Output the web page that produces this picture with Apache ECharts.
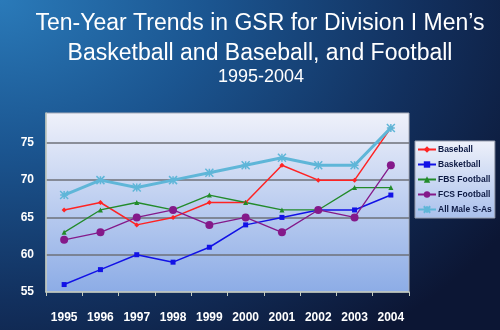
<!DOCTYPE html>
<html>
<head>
<meta charset="utf-8">
<script src="https://cdn.jsdelivr.net/npm/echarts@6/dist/echarts.min.js"></script>
<style>
html,body{margin:0;padding:0;}
body{width:500px;height:330px;overflow:hidden;
background:radial-gradient(ellipse 120% 130% at 0% 0%, #2a7ab9 0%, #1b5590 35%, #12305e 70%, #0c1634 100%);}
#c{width:500px;height:330px;}
</style>
</head>
<body>
<div id="c"></div>
<script>
var years = ['1995','1996','1997','1998','1999','2000','2001','2002','2003','2004'];
var baseball = [66, 67, 64, 65, 67, 67, 72, 70, 70, 77];
var basketball = [56, 58, 60, 59, 61, 64, 65, 66, 66, 68];
var fbsFootball = [63, 66, 67, 66, 68, 67, 66, 66, 69, 69];
var fcsFootball = [62, 63, 65, 66, 64, 65, 63, 66, 65, 72];
var allMale = [68, 70, 69, 70, 71, 72, 73, 72, 72, 77];
var seriesNames = ['Baseball', 'Basketball', 'FBS Football', 'FCS Football', 'All Male S-As'];

var chart = echarts.init(document.getElementById('c'));
var FONT = 'Liberation Sans, Arial, sans-serif';
function mk(name, data, color, symbol, size, width) {
  return {
    name: name, type: 'line', data: data,
    symbol: symbol, symbolSize: size,
    lineStyle: {color: color, width: width},
    itemStyle: {color: color, borderColor: color, borderWidth: symbol.indexOf('path') === 0 ? 1.5 : 0},
    emphasis: {disabled: true},
    z: 3
  };
}
chart.setOption({
  animation: false,
  backgroundColor: 'transparent',
  title: [{
    text: 'Ten-Year Trends in GSR for Division I Men\u2019s\nBasketball and Baseball, and Football',
    left: 255, top: 4, textAlign: 'center',
    textStyle: {color: '#ffffff', fontFamily: FONT, fontWeight: 'normal', fontSize: 23, lineHeight: 30}
  }, {
    text: '1995-2004',
    left: 256, top: 63, textAlign: 'center',
    textStyle: {color: '#ffffff', fontFamily: FONT, fontWeight: 'normal', fontSize: 18}
  }],
  legend: {
    orient: 'vertical', left: 415, top: 141,
    data: seriesNames,
    itemWidth: 18, itemHeight: 8, itemGap: 4,
    padding: [3, 3, 3, 2],
    borderColor: '#9aa0b0', borderWidth: 1,
    backgroundColor: new echarts.graphic.LinearGradient(0, 0, 0, 1, [
      {offset: 0, color: '#eef1fa'}, {offset: 1, color: '#a9c0ec'}]),
    textStyle: {color: '#0d1a44', fontFamily: FONT, fontSize: 8.5, fontWeight: 'bold', padding: [0, 0, 0, -3], lineHeight: 11}
  },
  grid: {
    left: 46, right: 91, top: 113, bottom: 38,
    show: true, borderColor: '#a8acb8', borderWidth: 1,
    backgroundColor: new echarts.graphic.LinearGradient(0, 0, 0, 1, [
      {offset: 0, color: '#eff1fa'}, {offset: 1, color: '#8cace6'}])
  },
  xAxis: {
    type: 'category', data: years, boundaryGap: true,
    axisLine: {lineStyle: {color: '#c4ccc0', width: 1.5}},
    axisTick: {show: true, length: 4, lineStyle: {color: '#c4ccc0'}},
    axisLabel: {color: '#ffffff', fontFamily: FONT, fontWeight: 'bold', fontSize: 12, margin: 20}
  },
  yAxis: {
    type: 'value', min: 55, max: 79, interval: 5,
    axisLine: {show: true, lineStyle: {color: '#c4ccc0', width: 1.5}},
    axisTick: {show: false},
    axisLabel: {color: '#ffffff', fontFamily: FONT, fontWeight: 'bold', fontSize: 12, margin: 12, showMaxLabel: false},
    splitLine: {show: true, showMinLine: false, showMaxLine: false, lineStyle: {color: '#6e7078', width: 1.5}}
  },
  series: [
    mk(seriesNames[0], baseball, '#ff2323', 'diamond', 5, 1.5),
    mk(seriesNames[1], basketball, '#1212e6', 'rect', 5, 1.5),
    mk(seriesNames[2], fbsFootball, '#228b2a', 'triangle', 5, 1.3),
    mk(seriesNames[3], fcsFootball, '#84198a', 'circle', 8, 1.3),
    mk(seriesNames[4], allMale, '#5fb6d8', 'path://M0,0L10,10M10,0L0,10M5,0L5,10M0,5L10,5', 8, 3)
  ]
});
</script>
</body>
</html>
